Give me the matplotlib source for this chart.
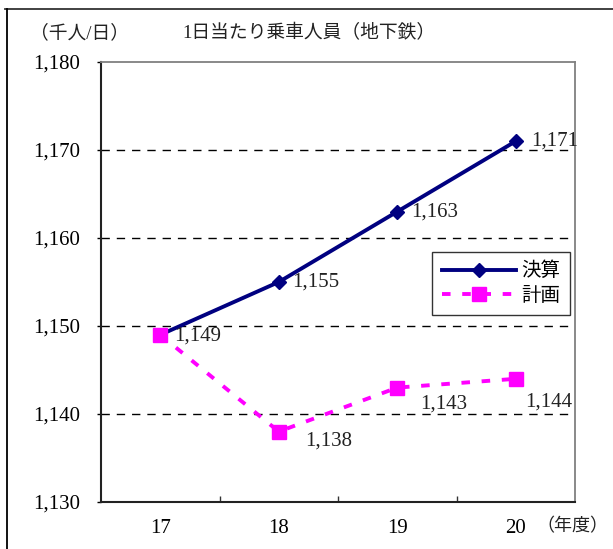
import matplotlib
matplotlib.use("Agg")
import matplotlib.pyplot as plt
from matplotlib.lines import Line2D

plt.rcParams['font.family'] = ['Liberation Serif', 'Noto Sans CJK JP', 'DejaVu Sans']

# data (thousand riders per day)
years = ["17", "18", "19", "20"]
actual = [1149, 1155, 1163, 1171]
plan = [1149, 1138, 1143, 1144]

# label offsets in points (dx, dy)
actual_off = [(10, -1), (9.5, 0), (10, 0), (11, 0)]
plan_off = [None, (19, -6.5), (16.5, -11.5), (6.5, -16.5)]

fig = plt.figure(figsize=(6.13, 5.49), dpi=100)
ax = fig.add_axes([0.1648, 0.0856, 0.7733, 0.8015])

x = list(range(len(years)))
ax.plot(x, actual, color="#000080", lw=2.8, marker="D", ms=7, label="決算", zorder=3)
ax.plot(x, plan, color="#FF00FF", lw=2.8, ls=(0, (2.2, 3.0)), marker="s", ms=10,
        label="計画", zorder=4)

for vals, offs in ((actual, actual_off), (plan, plan_off)):
    for i, v in enumerate(vals):
        if offs[i] is None:
            continue
        ax.annotate(f"{v:,}", (i, v), xytext=offs[i], textcoords="offset points",
                    fontsize=15, va="center", ha="left", color="#222222", zorder=5)

ax.set_xlim(-0.5, 3.5)
ax.set_ylim(1130, 1180)
ax.set_yticks(range(1130, 1181, 10))
ax.yaxis.set_major_formatter(matplotlib.ticker.FuncFormatter(lambda v, p: f"{int(v):,}"))
ax.set_xticks(x)
ax.set_xticklabels(years)
ax.set_xticks([0.5, 1.5, 2.5], minor=True)
ax.tick_params(axis="x", which="major", length=0, pad=12, labelsize=15)
ax.tick_params(axis="x", which="minor", direction="in", length=4, width=1, color="#333333")
ax.tick_params(axis="y", which="major", direction="out", length=3, width=1, pad=12,
               labelsize=15)

for yv in range(1140, 1180, 10):
    ax.axhline(yv, color="black", lw=1, ls=(0, (6, 5)), zorder=1)

ax.spines["left"].set_color("#222222")
ax.spines["bottom"].set_color("#222222")
ax.spines["left"].set_linewidth(1.5)
ax.spines["bottom"].set_linewidth(1.5)
ax.spines["top"].set_color("#808080")
ax.spines["right"].set_color("#808080")
ax.spines["top"].set_linewidth(1.3)
ax.spines["right"].set_linewidth(1.3)

leg = ax.legend(loc="upper right", bbox_to_anchor=(0.99, 0.568), fontsize=14,
                frameon=True, fancybox=False, edgecolor="black", handlelength=3.8,
                borderpad=0.5, labelspacing=0.35, handletextpad=0.3, borderaxespad=0)
leg.get_frame().set_linewidth(1)

fig.text(0.298, 1 - 33 / 549, "1日当たり乗車人員（地下鉄）", fontsize=13.5, ha="left",
         va="center", color="#222222")
fig.text(30 / 613, 1 - 33 / 549, "（千人/日）", fontsize=13.5, ha="left", va="center",
         color="#222222")
fig.text(536 / 613, 1 - 527 / 549, "（年度）", fontsize=13, ha="left", va="center",
         color="#222222")

# outer frame
fig.add_artist(Line2D([5 / 613, 1], [1 - 9 / 549, 1 - 9 / 549], color="#333333", lw=1.3))
fig.add_artist(Line2D([7 / 613, 7 / 613], [0, 1 - 9 / 549], color="black", lw=1.3))

fig.savefig("out.png", dpi=100)
